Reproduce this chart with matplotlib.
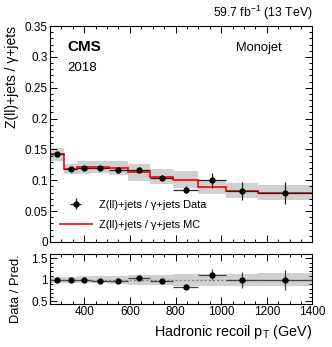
import numpy as np
import matplotlib
matplotlib.use("Agg")
import matplotlib.pyplot as plt
from matplotlib.ticker import MultipleLocator
from matplotlib.lines import Line2D

plt.rcParams['font.family'] = ['Liberation Sans', 'DejaVu Sans']
plt.rcParams['mathtext.fontset'] = 'custom'
plt.rcParams['mathtext.rm'] = 'Liberation Sans'
plt.rcParams['mathtext.it'] = 'Liberation Sans'

# ---- data ----
bin_edges = [250, 310, 370, 430, 510, 590, 690, 790, 900, 1020, 1160, 1400]
data_vals = [0.142, 0.118, 0.120, 0.120, 0.117, 0.117, 0.104, 0.085, 0.100, 0.083, 0.080]
data_errs = [0.002, 0.003, 0.003, 0.003, 0.004, 0.005, 0.005, 0.006, 0.012, 0.015, 0.018]
mc_vals = [0.142, 0.119, 0.121, 0.122, 0.120, 0.113, 0.106, 0.101, 0.089, 0.083, 0.080]
mc_unc = [0.010, 0.008, 0.010, 0.010, 0.011, 0.014, 0.012, 0.014, 0.012, 0.012, 0.012]

edges = np.array(bin_edges, dtype=float)
centers = 0.5 * (edges[:-1] + edges[1:])
xerr = 0.5 * (edges[1:] - edges[:-1])
data = np.array(data_vals)
derr = np.array(data_errs)
mc = np.array(mc_vals)
unc = np.array(mc_unc)

fig = plt.figure(figsize=(3.32, 3.47), dpi=100)
ax = fig.add_axes([0.1506, 0.3026, 0.7904, 0.6224])
rx = fig.add_axes([0.1506, 0.125, 0.7904, 0.143])

band_col = '#d0d0d0'
pt_col = '#222222'

# main panel
for i in range(len(mc)):
    ax.fill_between([edges[i], edges[i + 1]], mc[i] - unc[i], mc[i] + unc[i],
                    color=band_col, lw=0, zorder=1)
ax.stairs(mc, edges, color='#ff0000', lw=1.2, zorder=2, baseline=None)
ax.errorbar(centers, data, yerr=derr, xerr=xerr, fmt='o', color='black',
            ecolor=pt_col, elinewidth=0.9, ms=3.5, capsize=0, zorder=3)

ax.set_xlim(250, 1400)
ax.set_ylim(0, 0.35)
ax.set_ylabel('Z(ll)+jets / γ+jets', fontsize=10, loc='top')
ax.yaxis.set_label_coords(-0.118, 1.0)
ax.xaxis.set_major_locator(MultipleLocator(200))
ax.xaxis.set_minor_locator(MultipleLocator(50))
ax.set_xticklabels([])
ax.yaxis.set_minor_locator(MultipleLocator(0.01))
ax.set_yticks([0, 0.05, 0.1, 0.15, 0.2, 0.25, 0.3, 0.35])
ax.set_yticklabels(['0', '0.05', '0.1', '0.15', '0.2', '0.25', '0.3', '0.35'])

h_data = ax.errorbar([], [], yerr=[], xerr=[], fmt='o', color='black',
                     ecolor=pt_col, elinewidth=0.9, ms=3.5, capsize=0)
h_mc = Line2D([], [], color='#ff0000', lw=1.2)
leg = ax.legend([h_data, h_mc], ['Z(ll)+jets / γ+jets Data', 'Z(ll)+jets / γ+jets MC'],
                loc='lower left', bbox_to_anchor=(0.0, 0.01), frameon=False,
                fontsize=7.9, handlelength=2.9, labelspacing=0.95, handletextpad=0.7)

ax.text(0.065, 0.903, 'CMS', transform=ax.transAxes, fontsize=11,
        fontweight='bold', va='center', ha='left')
ax.text(0.065, 0.806, '2018', transform=ax.transAxes, fontsize=9.5,
        va='center', ha='left')
ax.text(0.884, 0.898, 'Monojet', transform=ax.transAxes, fontsize=9.3,
        va='center', ha='right')
ax.text(1.0, 1.02, '59.7 fb$^{-1}$ (13 TeV)', transform=ax.transAxes,
        fontsize=8.8, ha='right', va='bottom')

# ratio panel
ratio = data / mc
rerr = derr / mc
rel = unc / mc
for i in range(len(mc)):
    rx.fill_between([edges[i], edges[i + 1]], 1 - rel[i], 1 + rel[i],
                    color=band_col, lw=0, zorder=1)
rx.axhline(1, color='#888888', ls=(0, (1.5, 1.5)), lw=1.0, zorder=2)
rx.errorbar(centers, ratio, yerr=rerr, xerr=xerr, fmt='o', color='black',
            ecolor='#444444', elinewidth=0.9, ms=3.5, capsize=0, zorder=3)
rx.set_xlim(250, 1400)
rx.set_ylim(0.45, 1.6)
rx.set_yticks([0.5, 1, 1.5])
rx.set_yticklabels(['0.5', '1', '1.5'])
rx.yaxis.set_minor_locator(MultipleLocator(0.1))
rx.xaxis.set_major_locator(MultipleLocator(200))
rx.xaxis.set_minor_locator(MultipleLocator(50))
rx.set_ylabel('Data / Pred.', fontsize=9.3, loc='top')
rx.yaxis.set_label_coords(-0.107, 1.0)
rx.set_xlabel('Hadronic recoil p$_{\\mathrm{T}}$ (GeV)', fontsize=10.4, ha='right', x=1.0)

for a in (ax, rx):
    a.tick_params(which='both', direction='in', top=True, right=True, labelsize=8.5, pad=1.5)
    a.tick_params(which='major', length=5, width=0.7)
    a.tick_params(which='minor', length=2.5, width=0.7)
    for s in a.spines.values():
        s.set_linewidth(0.8)

fig.savefig('out.png', dpi=100)
